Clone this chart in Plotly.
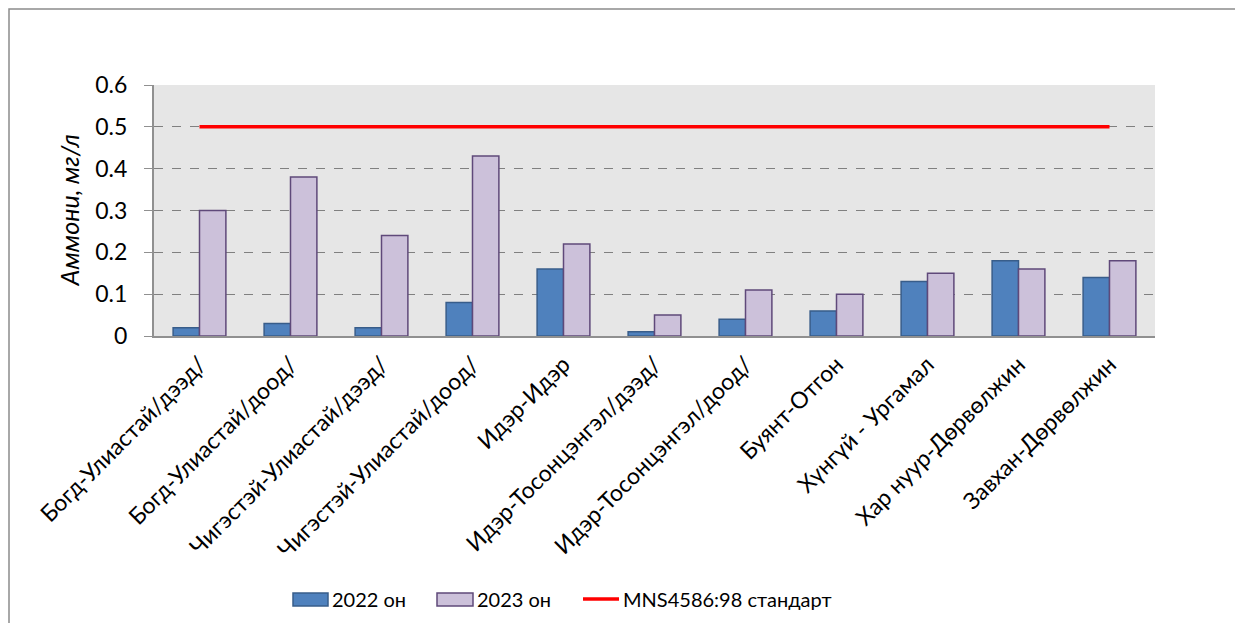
import plotly.graph_objects as go

categories = [
    "Богд-Улиастай/дээд/",
    "Богд-Улиастай/доод/",
    "Чигэстэй-Улиастай/дээд/",
    "Чигэстэй-Улиастай/доод/",
    "Идэр-Идэр",
    "Идэр-Тосонцэнгэл/дээд/",
    "Идэр-Тосонцэнгэл/доод/",
    "Буянт-Отгон",
    "Хүнгүй - Ургамал",
    "Хар нуур-Дөрвөлжин",
    "Завхан-Дөрвөлжин",
]
values_2022 = [0.02, 0.03, 0.02, 0.08, 0.16, 0.01, 0.04, 0.06, 0.13, 0.18, 0.14]
values_2023 = [0.30, 0.38, 0.24, 0.43, 0.22, 0.05, 0.11, 0.10, 0.15, 0.16, 0.18]
standard = [0.5] * len(categories)
y_ticks = [0, 0.1, 0.2, 0.3, 0.4, 0.5, 0.6]
y_tick_labels = ["0", "0.1", "0.2", "0.3", "0.4", "0.5", "0.6"]
series_names = ["2022 он", "2023 он", "MNS4586:98 стандарт"]

FONT = "Lato"
C22, C22L = "#4F81BD", "#385D8A"
C23, C23L = "#CCC1DA", "#5F497A"

fig = go.Figure()
fig.add_trace(go.Bar(
    x=categories, y=values_2022, name=series_names[0],
    marker=dict(color=C22, line=dict(color=C22L, width=1.5)),
))
fig.add_trace(go.Bar(
    x=categories, y=values_2023, name=series_names[1],
    marker=dict(color=C23, line=dict(color=C23L, width=1.5)),
))
fig.add_trace(go.Scatter(
    x=categories, y=standard, name=series_names[2], mode="lines",
    line=dict(color="#FF0000", width=3.5),
))

# page is offset by 8px (body margin); work in screenshot pixel coordinates
OFF = 8
L, R, T, B = 154, 1155, 85, 336
W, H = 1243, 623
pw, ph = R - L, B - T

def px_x(x):
    return (x - L) / pw

def px_y(y):
    return (B - y) / ph

fig.update_layout(
    width=W - OFF, height=H - OFF,
    margin=dict(l=L - OFF, r=W - R, t=T - OFF, b=H - B, autoexpand=False),
    paper_bgcolor="white",
    plot_bgcolor="#E6E6E6",
    bargap=0.42, bargroupgap=0,
    font=dict(family=FONT, color="black"),
    showlegend=False,
    xaxis=dict(
        tickangle=-45, tickfont=dict(size=23, family=FONT),
        showline=True, linecolor="#909090", linewidth=2,
        showgrid=False, ticks="", automargin=False, ticklabelstandoff=4,
    ),
    yaxis=dict(
        range=[0, 0.6], tickvals=y_ticks, ticktext=y_tick_labels,
        tickfont=dict(size=23, family=FONT),
        showline=True, linecolor="#909090", linewidth=2,
        showgrid=True, gridcolor="#808080", griddash="dash", gridwidth=1.3,
        ticks="outside", ticklen=8, tickcolor="#909090", ticklabelstandoff=12,
        zeroline=False, automargin=False,
    ),
)

# y-axis title
fig.add_annotation(
    xref="paper", yref="paper", x=px_x(68), y=0.5, text="<i>Аммони, мг/л</i>",
    textangle=-90, showarrow=False, font=dict(size=25, family=FONT),
    xanchor="center", yanchor="middle",
)

# chart frame
fig.add_shape(
    type="rect", xref="paper", yref="paper",
    x0=px_x(9), x1=px_x(1250), y0=px_y(630), y1=px_y(9),
    line=dict(color="#8C8C8C", width=1.5), fillcolor="rgba(0,0,0,0)", layer="below",
)

# legend
leg_y = 599
fig.add_shape(type="rect", xref="paper", yref="paper",
              x0=px_x(293), x1=px_x(328), y0=px_y(606), y1=px_y(593),
              fillcolor=C22, line=dict(color=C22L, width=1.5))
fig.add_shape(type="rect", xref="paper", yref="paper",
              x0=px_x(437), x1=px_x(473), y0=px_y(606), y1=px_y(593),
              fillcolor=C23, line=dict(color=C23L, width=1.5))
fig.add_shape(type="line", xref="paper", yref="paper",
              x0=px_x(583), x1=px_x(619), y0=px_y(leg_y), y1=px_y(leg_y),
              line=dict(color="#FF0000", width=3.5))
for xpos, name in zip([330, 475, 621], series_names):
    fig.add_annotation(
        xref="paper", yref="paper", x=px_x(xpos), y=px_y(leg_y), text=name,
        showarrow=False, xanchor="left", yanchor="middle",
        font=dict(size=20, family=FONT),
    )

fig.write_html("out.html")
